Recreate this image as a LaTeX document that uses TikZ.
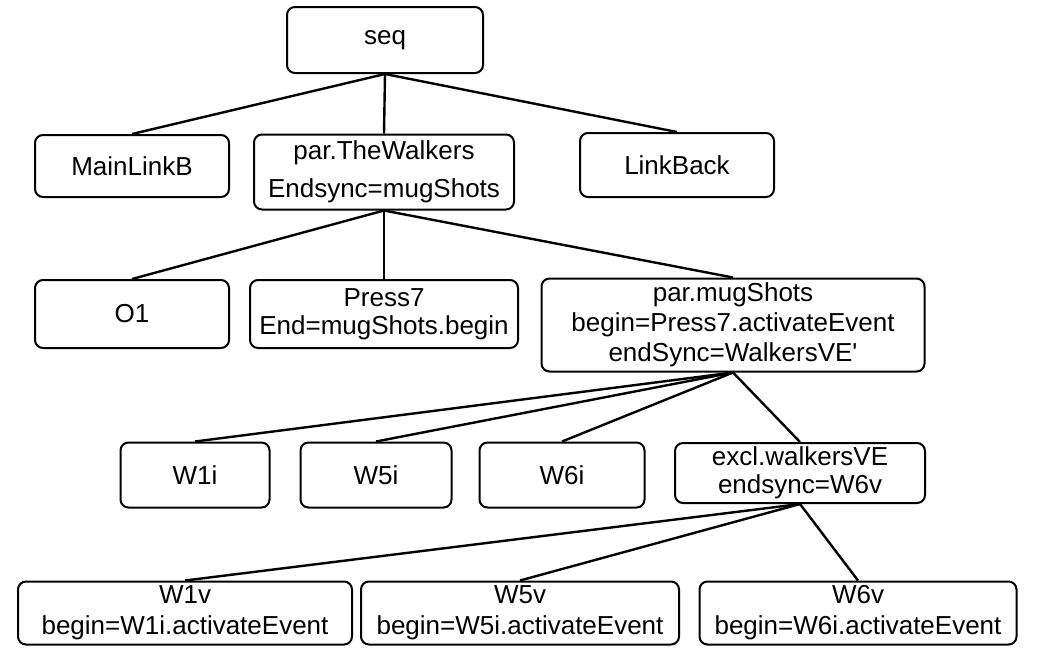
\documentclass[tikz,border=0pt]{standalone}
\usepackage{fontspec}
\setmainfont{Liberation Sans}
\usepackage{tikz}
\tikzstyle{box} = [rectangle, rounded corners=4pt, draw=black, line width=1pt, align=center, inner sep=1pt, font=\fontsize{13}{14}\selectfont]
\tikzstyle{wide} = [font=\fontsize{13}{15.5}\selectfont]
\tikzstyle{link} = [line width=1.2pt]

\begin{document}
\begin{tikzpicture}[x=0.5pt, y=-0.5pt]
            \useasboundingbox (0,0) rectangle (1047,650);

            \node (seq) [box, minimum width=98pt, minimum height=33pt] at (385,40) {seq};

            \node (mainlink) [box, minimum width=97pt, minimum height=31pt] at (132,166) {MainLinkB};
            \node (walkers) [box, font=\fontsize{13}{19}\selectfont, minimum width=130pt, minimum height=37.5pt] at (384,172) {par.TheWalkers\\Endsync=mugShots};
            \node (linkback) [box, minimum width=97pt, minimum height=32pt] at (677,165) {LinkBack};

            \node (o1) [box, minimum width=97pt, minimum height=34pt] at (132,314) {O1};
            \node (press) [box, minimum width=134pt, minimum height=34pt] at (384,314) {Press7\\End=mugShots.begin};
            \node (mugshots) [box, font=\fontsize{13}{15}\selectfont, minimum width=191.5pt, minimum height=46.5pt] at (733,325) {par.mugShots\\begin=Press7.activateEvent\\endSync=WalkersVE\textquotesingle};

            \node (w1i) [box, minimum width=74.5pt, minimum height=32.5pt] at (195,475) {W1i};
            \node (w5i) [box, minimum width=75.5pt, minimum height=32.5pt] at (376,475) {W5i};
            \node (w6i) [box, minimum width=82.5pt, minimum height=32.5pt] at (562,475) {W6i};
            \node (excl) [box, minimum width=125pt, minimum height=30pt] at (800,473) {excl.walkersVE\\endsync=W6v};

            \node (w1v) [box, wide, minimum width=167pt, minimum height=31.5pt] at (185,613) {W1v\\begin=W1i.activateEvent};
            \node (w5v) [box, wide, minimum width=159pt, minimum height=31.5pt] at (520,613) {W5v\\begin=W5i.activateEvent};
            \node (w6v) [box, wide, minimum width=158.5pt, minimum height=31.5pt] at (858,613) {W6v\\begin=W6i.activateEvent};

            \foreach \a/\b in {seq/mainlink, seq/walkers, seq/linkback,
                               walkers/o1, walkers/press, walkers/mugshots,
                               mugshots/w1i, mugshots/w5i, mugshots/w6i, mugshots/excl,
                               excl/w1v, excl/w5v, excl/w6v}
            {
                \draw [link] (\a.south) -- (\b.north);
            }
        \end{tikzpicture}
\end{document}
